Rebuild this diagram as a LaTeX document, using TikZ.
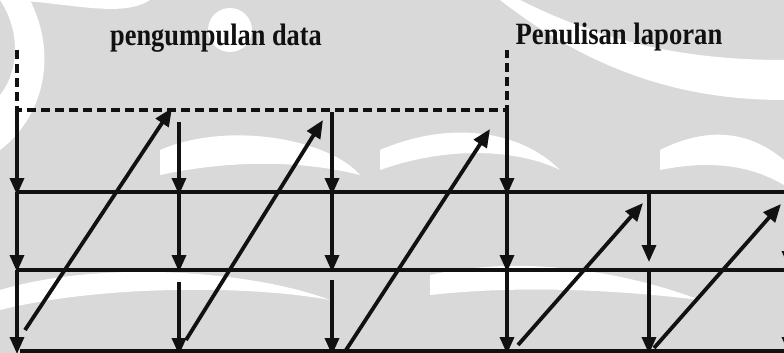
\documentclass[tikz,border=0pt]{standalone}
\usepackage{fontspec}
\usepackage{graphicx}
\setmainfont{Liberation Serif}
\usetikzlibrary{arrows.meta}
\definecolor{wmgray}{HTML}{D9D9D9}
\definecolor{ink}{HTML}{111111}
\begin{document}
\begin{tikzpicture}[x=1pt,y=-1pt,
  hline/.style={draw=ink,line width=4.2pt},
  vline/.style={draw=ink,line width=3.4pt,-{Triangle[length=17pt,width=14pt]}},
  dline/.style={draw=ink,line width=3.8pt,-{Triangle[length=18pt,width=15pt]}},
  dashline/.style={draw=ink,line width=3.6pt,dash pattern=on 9pt off 5pt},
  title/.style={font=\fontsize{31}{33}\selectfont\bfseries,text=ink,anchor=base,inner sep=0pt}]
\useasboundingbox (0,0) rectangle (784,353);
\clip (0,0) rectangle (784,353);
\fill[wmgray] (0,0) rectangle (784,353);
% watermark swirls (approximate)
\begin{scope}[white]
\fill (0,0) .. controls (60,0) and (120,20) .. (150,0) -- (0,0) -- cycle;
\fill (30,0) .. controls (60,60) and (40,120) .. (0,150) -- (0,95) .. controls (20,70) and (20,30) .. (0,0) -- cycle;
\fill (160,150) .. controls (230,120) and (330,140) .. (360,175) .. controls (300,160) and (230,160) .. (160,175) -- cycle;
\fill (230,30) circle (22);
\fill (380,150) .. controls (450,120) and (520,130) .. (560,170) .. controls (520,150) and (450,145) .. (380,170) -- cycle;
\fill (520,0) .. controls (600,40) and (680,60) .. (784,60) -- (784,100) .. controls (680,100) and (590,70) .. (500,0) -- cycle;
\fill (0,290) .. controls (100,260) and (250,270) .. (330,300) .. controls (250,285) and (100,285) .. (0,310) -- cycle;
\fill (430,275) .. controls (520,255) and (620,270) .. (700,300) .. controls (620,290) and (520,285) .. (430,295) -- cycle;
\fill (660,150) .. controls (720,120) and (760,140) .. (784,160) -- (784,185) .. controls (750,165) and (710,160) .. (660,170) -- cycle;
\end{scope}
% titles
\node[title] (t1) at (216,46) {\scalebox{0.85}[1]{pengumpulan data}};
\node[title] (t2) at (619,45) {\scalebox{0.86}[1]{Penulisan laporan}};
% column coordinates
\coordinate (a0) at (17,50);   \coordinate (a1) at (17,110);
\coordinate (a2) at (17,192);  \coordinate (a3) at (17,270); \coordinate (a4) at (17,351);
\coordinate (b1) at (179,122); \coordinate (b2) at (179,192); \coordinate (b2s) at (179,194);
\coordinate (b3) at (179,270); \coordinate (b3s) at (179,282); \coordinate (b4) at (179,351);
\coordinate (c1) at (332,112); \coordinate (c2) at (332,192); \coordinate (c3) at (332,270);
\coordinate (c3s) at (332,280); \coordinate (c4) at (332,351);
\coordinate (d0) at (507,50);  \coordinate (d1) at (507,110); \coordinate (d2) at (507,192);
\coordinate (d3) at (507,270); \coordinate (d4) at (507,351);
\coordinate (e2) at (649,192); \coordinate (e3) at (649,272); \coordinate (e3t) at (649,262);
\coordinate (e4) at (649,351);
\coordinate (f2) at (789,192); \coordinate (f3) at (789,270); \coordinate (f3t) at (789,268);
\coordinate (f4) at (789,351);
\coordinate (L1r) at (784,192); \coordinate (L2r) at (784,270);
\coordinate (L3l) at (20,351); \coordinate (L3r) at (784,351);
% dashed frame
\draw[dashline] (a0) -- (a1) -- (d1) -- (d0);
% horizontal lines
\draw[hline] (a2) -- (L1r);
\draw[hline] (a3) -- (L2r);
\draw[hline] (L3l) -- (L3r);
% vertical arrows
\draw[vline] (a1) -- ([yshift=-3pt]a2);
\draw[vline] (a2) -- ([yshift=-2pt]a3);
\draw[vline] (a3) -- ([yshift=-3pt]a4);
\draw[vline] (b1) -- ([yshift=-3pt]b2);
\draw[vline] (b2s) -- ([yshift=-2pt]b3);
\draw[vline] (b3s) -- ([yshift=-4pt]b4);
\draw[vline] (c1) -- ([yshift=-3pt]c2);
\draw[vline] (c2) -- ([yshift=-2pt]c3);
\draw[vline] (c3s) -- ([yshift=-4pt]c4);
\draw[vline] (d1) -- ([yshift=-3pt]d2);
\draw[vline] (d2) -- ([yshift=-2pt]d3);
\draw[vline] (d3) -- ([yshift=-3pt]d4);
\draw[vline] (e2) -- (e3t);
\draw[vline] (e3) -- ([yshift=-3pt]e4);
\draw[vline] (f2) -- (f3t);
\draw[vline] (f3) -- ([yshift=-3pt]f4);
% diagonal arrows
\coordinate (g1) at (25,330);  \coordinate (h1) at (172,108);
\coordinate (g2) at (186,340); \coordinate (h2) at (323,120);
\coordinate (g3) at (346,350); \coordinate (h3) at (490,129);
\coordinate (g4) at (518,345); \coordinate (h4) at (643,203);
\coordinate (g5) at (654,348); \coordinate (h5) at (781,204);
\draw[dline] (g1) -- (h1);
\draw[dline] (g2) -- (h2);
\draw[dline] (g3) -- (h3);
\draw[dline] (g4) -- (h4);
\draw[dline] (g5) -- (h5);
\end{tikzpicture}
\end{document}
